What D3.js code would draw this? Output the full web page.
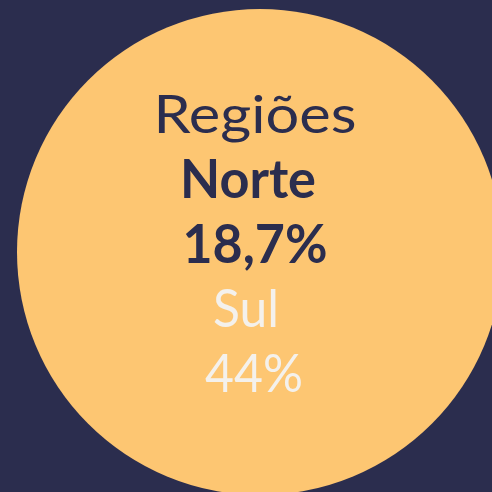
<!DOCTYPE html>
<html>
<head>
<meta charset="utf-8">
<script src="https://cdn.jsdelivr.net/npm/d3@7"></script>
<style>
  html, body { margin: 0; padding: 0; background: #2b2d4e; }
  svg { display: block; }
</style>
</head>
<body>
<div id="chart"></div>
<script>
// data
const title = "Regiões";
const regions = ["Norte", "Sul"];
const shares = [18.7, 44];

const width = 492, height = 492;
const bg = "#2b2d4e", circleFill = "#fdc672";
const dark = "#2b2d4e", light = "#f4f1ec";

const ptBR = d3.formatLocale({ decimal: ",", thousands: ".", grouping: [3], currency: ["R$", ""] });
const fmt = v => ptBR.format("~f")(v) + "%";

const svg = d3.select("#chart").append("svg")
    .attr("width", width)
    .attr("height", height);

svg.append("rect").attr("width", width).attr("height", height).attr("fill", bg);

svg.append("circle")
    .attr("cx", 260)
    .attr("cy", 252)
    .attr("r", 243)
    .attr("fill", circleFill);

// stacked text lines
const lines = [
    { text: title, weight: 400, color: dark, x: 255, w: 203 },
    { text: regions[0], weight: 700, color: dark, x: 248, w: 136 },
    { text: fmt(shares[0]), weight: 700, color: dark, x: 255, w: 145 },
    { text: regions[1], weight: 400, color: light, x: 246, w: 66 },
    { text: fmt(shares[1]), weight: 400, color: light, x: 254, w: 98 }
];

const y = d3.scalePoint().domain(d3.range(lines.length)).range([133, 392]);

svg.selectAll("text.line")
    .data(lines)
    .join("text")
    .attr("class", "line")
    .attr("x", d => d.x)
    .attr("y", (d, i) => y(i))
    .attr("text-anchor", "middle")
    .attr("font-family", "Lato, 'DejaVu Sans', sans-serif")
    .attr("font-size", 53)
    .attr("font-weight", d => d.weight)
    .attr("fill", d => d.color)
    .attr("textLength", d => d.w)
    .attr("lengthAdjust", "spacingAndGlyphs")
    .text(d => d.text);
</script>
</body>
</html>
